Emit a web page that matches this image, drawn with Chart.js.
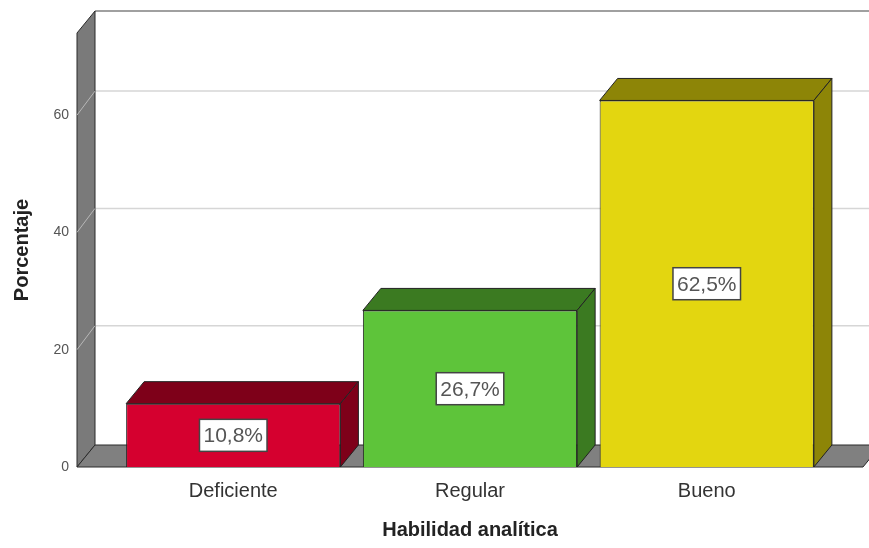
<!DOCTYPE html>
<html>
<head>
<meta charset="utf-8">
<script src="https://cdn.jsdelivr.net/npm/chart.js@4"></script>
<style>
  body { margin: 0; background: #fff; }
  canvas { display: block; }
</style>
</head>
<body>
<canvas id="habilidadChart" width="869" height="548"></canvas>
<script>
// Data
const categories = ["Deficiente", "Regular", "Bueno"];
const percentages = [10.8, 26.7, 62.5];
const yTicks = [0, 20, 40, 60];

const frontColors = ["#d5002f", "#5ec43a", "#e3d610"];
const darkColors = ["#7e0019", "#3b7a21", "#8d8507"];

// depth offset of the fake 3D look
const DX = 18;
const DY = -22;
const GRID_DY = -24;

const font = '"Liberation Sans", Arial, sans-serif';

const threeD = {
  id: "threeD",
  beforeDatasetsDraw(chart) {
    const { ctx, chartArea, scales } = chart;
    const { left, right, top, bottom } = chartArea;
    const y = scales.y;
    ctx.save();

    // back wall top edge
    ctx.strokeStyle = "#a0a0a0";
    ctx.lineWidth = 2;
    ctx.beginPath();
    ctx.moveTo(left + DX, top + DY);
    ctx.lineTo(right + DX, top + DY);
    ctx.stroke();

    // back grid lines
    ctx.strokeStyle = "#d6d6d6";
    ctx.lineWidth = 1.5;
    yTicks.filter((v) => v > 0).forEach((v) => {
      const py = y.getPixelForValue(v) + GRID_DY;
      ctx.beginPath();
      ctx.moveTo(left + DX, py);
      ctx.lineTo(right + DX, py);
      ctx.stroke();
    });

    // left wall
    ctx.fillStyle = "#7a7a7a";
    ctx.strokeStyle = "#2a2a2a";
    ctx.lineWidth = 1;
    ctx.beginPath();
    ctx.moveTo(left, top);
    ctx.lineTo(left + DX, top + DY);
    ctx.lineTo(left + DX, bottom + DY);
    ctx.lineTo(left, bottom);
    ctx.closePath();
    ctx.fill();
    ctx.stroke();

    // grid lines across the wall
    ctx.strokeStyle = "#b8b8b8";
    yTicks.filter((v) => v > 0).forEach((v) => {
      const py = y.getPixelForValue(v);
      ctx.beginPath();
      ctx.moveTo(left, py);
      ctx.lineTo(left + DX, py + GRID_DY);
      ctx.stroke();
    });

    // floor
    ctx.fillStyle = "#808080";
    ctx.strokeStyle = "#2a2a2a";
    ctx.beginPath();
    ctx.moveTo(left, bottom);
    ctx.lineTo(left + DX, bottom + DY);
    ctx.lineTo(right + DX, bottom + DY);
    ctx.lineTo(right, bottom);
    ctx.closePath();
    ctx.fill();
    ctx.stroke();

    ctx.restore();
  },
  afterDatasetsDraw(chart) {
    const { ctx } = chart;
    const meta = chart.getDatasetMeta(0);
    ctx.save();
    ctx.strokeStyle = "#222";
    ctx.lineWidth = 1;
    meta.data.forEach((bar, i) => {
      const { x, y, base, width } = bar.getProps(["x", "y", "base", "width"], true);
      const x1 = x - width / 2;
      const x2 = x + width / 2;
      ctx.fillStyle = darkColors[i];

      // top face
      ctx.beginPath();
      ctx.moveTo(x1, y);
      ctx.lineTo(x1 + DX, y + DY);
      ctx.lineTo(x2 + DX, y + DY);
      ctx.lineTo(x2, y);
      ctx.closePath();
      ctx.fill();
      ctx.stroke();

      // side face
      ctx.beginPath();
      ctx.moveTo(x2, y);
      ctx.lineTo(x2 + DX, y + DY);
      ctx.lineTo(x2 + DX, base + DY);
      ctx.lineTo(x2, base);
      ctx.closePath();
      ctx.fill();
      ctx.stroke();

      // value label
      const text = percentages[i].toFixed(1).replace(".", ",") + "%";
      ctx.font = "21px " + font;
      const w = ctx.measureText(text).width + 8;
      const h = 32;
      const cy = (y + base) / 2;
      ctx.fillStyle = "#fff";
      ctx.fillRect(x - w / 2, cy - h / 2, w, h);
      ctx.strokeStyle = "#444";
      ctx.lineWidth = 1.5;
      ctx.strokeRect(x - w / 2, cy - h / 2, w, h);
      ctx.fillStyle = "#555";
      ctx.textAlign = "center";
      ctx.textBaseline = "middle";
      ctx.fillText(text, x, cy + 1);
      ctx.strokeStyle = "#222";
      ctx.lineWidth = 1;
    });
    ctx.restore();
  },
};

const ctx = document.getElementById("habilidadChart").getContext("2d");

new Chart(ctx, {
  type: "bar",
  data: {
    datasets: [
      {
        label: "Porcentaje",
        data: percentages.map((v, i) => ({ x: i, y: v })),
        backgroundColor: frontColors,
        borderColor: "#222",
        borderWidth: 1,
        barPercentage: 0.905,
        categoryPercentage: 1,
      },
    ],
  },
  options: {
    responsive: false,
    animation: false,
    layout: { padding: { top: 33, right: 6, left: 0, bottom: 0 } },
    plugins: {
      legend: { display: false },
      tooltip: { enabled: false },
    },
    scales: {
      x: {
        type: "linear",
        offset: false,
        min: -0.66,
        max: 2.66,
        grid: { display: false, drawTicks: false, offset: false },
        border: { display: false },
        afterBuildTicks: (scale) => {
          scale.ticks = categories.map((c, i) => ({ value: i }));
        },
        afterFit: (scale) => {
          scale.height = 81;
        },
        ticks: {
          callback: (value) => categories[value],
          font: { family: font, size: 20 },
          color: "#333",
          padding: 12,
          maxRotation: 0,
        },
        title: {
          display: true,
          text: "Habilidad analítica",
          font: { family: font, size: 20, weight: "bold" },
          color: "#222",
          padding: { top: 0, bottom: 6 },
        },
      },
      y: {
        min: 0,
        max: 74,
        grid: { display: false, drawTicks: false },
        border: { display: false },
        afterBuildTicks: (scale) => {
          scale.ticks = yTicks.map((v) => ({ value: v }));
        },
        afterFit: (scale) => {
          scale.width = 77;
        },
        ticks: {
          font: { family: font, size: 14 },
          color: "#555",
          padding: 8,
        },
        title: {
          display: true,
          text: "Porcentaje",
          font: { family: font, size: 20, weight: "bold" },
          color: "#222",
          padding: { top: 10, bottom: 0 },
        },
      },
    },
  },
  plugins: [threeD],
});
</script>
</body>
</html>
